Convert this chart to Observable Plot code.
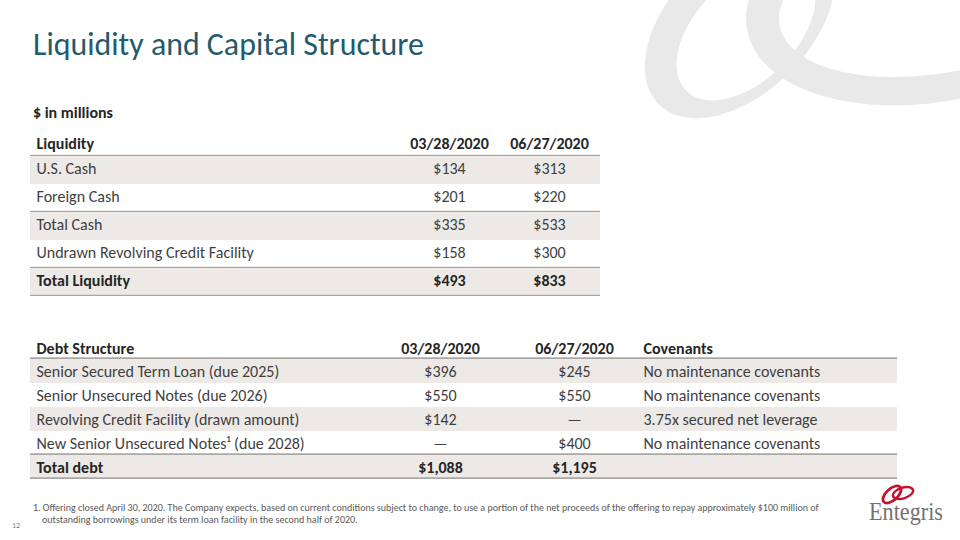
<!DOCTYPE html>
<html><head><meta charset="utf-8">
<script src="https://cdn.jsdelivr.net/npm/d3@7"></script>
<script src="https://cdn.jsdelivr.net/npm/@observablehq/plot@0.6"></script>
<style>
html,body{margin:0;padding:0;background:#fff}
#page{position:relative;width:960px;height:540px;overflow:hidden;background:#fff}
.abs{position:absolute}
</style></head><body>
<div id="page">
<svg id="bg" class="abs" width="960" height="540" style="left:0;top:0">
  <defs>
    <mask id="m1" maskUnits="userSpaceOnUse" x="0" y="0" width="960" height="540">
      <ellipse cx="740" cy="23" rx="115" ry="70" transform="rotate(-45 740 23)" fill="#fff"/>
      <ellipse cx="746" cy="31" rx="84.5" ry="50" transform="rotate(-45 746 31)" fill="#000"/>
    </mask>
    <mask id="m2" maskUnits="userSpaceOnUse" x="0" y="0" width="960" height="540">
      <ellipse cx="943" cy="-10" rx="200" ry="110" transform="rotate(-12 943 -10)" fill="#fff"/>
      <ellipse cx="948" cy="-9" rx="172" ry="80" transform="rotate(-12 948 -9)" fill="#000"/>
    </mask>
  </defs>
  <rect width="960" height="540" fill="#e9e9e9" mask="url(#m1)"/>
  <rect width="960" height="540" fill="#e9e9e9" mask="url(#m2)"/>
</svg>
<div id="liq" class="abs" style="left:30px;top:126px"></div>
<div id="debt" class="abs" style="left:30px;top:335px"></div>
<svg id="txt" class="abs" width="960" height="540" style="left:0;top:0"></svg>
</div>
<script>
// ---------- data ----------
const liqHeader = ["Liquidity", "03/28/2020", "06/27/2020"];
const liqRows = ["U.S. Cash", "Foreign Cash", "Total Cash", "Undrawn Revolving Credit Facility", "Total Liquidity"];
const liqQ1 = [134, 201, 335, 158, 493];
const liqQ2 = [313, 220, 533, 300, 833];

const debtHeader = ["Debt Structure", "03/28/2020", "06/27/2020", "Covenants"];
const debtRows = ["Senior Secured Term Loan (due 2025)", "Senior Unsecured Notes (due 2026)", "Revolving Credit Facility (drawn amount)", "New Senior Unsecured Notes\u00b9 (due 2028)", "Total debt"];
const debtQ1 = [396, 550, 142, null, 1088];
const debtQ2 = [245, 550, null, 400, 1195];
const debtCovenants = ["No maintenance covenants", "No maintenance covenants", "3.75x secured net leverage", "No maintenance covenants", ""];

const titleText = "Liquidity and Capital Structure";
const unitText = "$ in millions";
const footLines = [
  "1. Offering closed April 30, 2020. The Company expects, based on current conditions subject to change, to use a portion of the net proceeds of the offering to repay approximately $100 million of",
  "outstanding borrowings under its term loan facility in the second half of 2020."
];
const pageNum = "12";

// ---------- style ----------
const FONT = "Carlito, Lato, 'Open Sans', sans-serif";
const SHADE = "#ece9e6";
const RULE = "#a8a5a3";
const TEXT = "#3f3f3f";
const HEAD = "#262626";
const TITLE = "#245a6b";

const ctx = document.createElement("canvas").getContext("2d");
function fit(text, target, weight = "normal", family = FONT) {
  ctx.font = `${weight} 100px ${family}`;
  return 100 * target / ctx.measureText(text).width;
}
const money = v => v == null ? "\u2014" : "$" + d3.format(",")(v);

const bodySize = (fit("Revolving Credit Facility (drawn amount)", 263) + fit("Undrawn Revolving Credit Facility", 218)) / 2;

function drawTable(el, o) {
  const n = o.columns[0].length;
  const keys = ["h", ...d3.range(n).map(String)];
  const rows = d3.range(n).map(i => ({key: String(i), cells: o.columns.map(c => c[i]), bold: o.bold.includes(i)}));
  const head = [{key: "h", cells: o.header}];
  const marks = [
    Plot.cell(o.shaded.map(String), {y: d => d, fill: SHADE}),
    Plot.cell(o.ruled.map(d => d === -1 ? "h" : String(d)), {y: d => d, fill: RULE, insetTop: o.rowH - 1.7})
  ];
  o.header.forEach((_, j) => {
    const common = {y: "key", text: d => d.cells[j], frameAnchor: "left", dx: o.colX[j], textAnchor: o.anchor[j], fontSize: bodySize, fontFamily: FONT};
    marks.push(Plot.text(rows.filter(d => !d.bold), {...common, fill: TEXT, dy: o.rowDy}));
    marks.push(Plot.text(rows.filter(d => d.bold), {...common, fill: HEAD, fontWeight: "bold", dy: o.rowDy}));
    marks.push(Plot.text(head, {...common, fill: HEAD, fontWeight: "bold", dy: o.headDy}));
  });
  const svg = Plot.plot({
    width: o.width, height: o.rowH * keys.length, margin: 0,
    y: {domain: keys, padding: 0, axis: null},
    style: {background: "transparent", fontFamily: FONT, overflow: "visible"},
    marks
  });
  el.appendChild(svg);
}

drawTable(document.getElementById("liq"), {
  header: liqHeader,
  columns: [liqRows, liqQ1.map(money), liqQ2.map(money)],
  colX: [6, 419, 519], anchor: ["start", "middle", "middle"],
  width: 570, rowH: 28.5, headDy: 1, rowDy: -1.2,
  shaded: [0, 2, 4], ruled: [-1, 1, 3, 4], bold: [4]
});
drawTable(document.getElementById("debt"), {
  header: debtHeader,
  columns: [debtRows, debtQ1.map(money), debtQ2.map(money), debtCovenants],
  colX: [6, 410, 544, 613], anchor: ["start", "middle", "middle", "start"],
  width: 867, rowH: 24, headDy: 1, rowDy: 0,
  shaded: [0, 2, 4], ruled: [-1, 3, 4], bold: [4]
});

// ---------- page text ----------
const T = d3.select("#txt");
T.append("text").attr("x", 33).attr("y", 55).attr("font-family", FONT)
  .attr("font-size", fit(titleText, 391)).attr("fill", TITLE).text(titleText);
T.append("text").attr("x", 33).attr("y", 118).attr("font-family", FONT).attr("font-weight", "bold")
  .attr("font-size", fit(unitText, 80, "bold")).attr("fill", HEAD).text(unitText);
const footSize = fit(footLines[0], 787);
T.append("text").attr("x", 33).attr("y", 511).attr("font-family", FONT)
  .attr("font-size", footSize).attr("fill", "#595959").text(footLines[0]);
T.append("text").attr("x", 42).attr("y", 523).attr("font-family", FONT)
  .attr("font-size", footSize).attr("fill", "#595959").text(footLines[1]);
T.append("text").attr("x", 12).attr("y", 528).attr("font-family", FONT)
  .attr("font-size", 8).attr("fill", "#7f7f7f").text(pageNum);

// logo
const L = T.append("g");
L.append("ellipse").attr("cx", 892).attr("cy", 494.5).attr("rx", 11).attr("ry", 5.8)
  .attr("transform", "rotate(-42 892 494.5)").attr("fill", "none").attr("stroke", "#c8102e").attr("stroke-width", 2.8);
L.append("ellipse").attr("cx", 903).attr("cy", 493).attr("rx", 10.5).attr("ry", 5.3)
  .attr("transform", "rotate(-18 903 493)").attr("fill", "none").attr("stroke", "#c8102e").attr("stroke-width", 2.4);
L.append("text").attr("x", 869).attr("y", 520).attr("font-family", "'Liberation Serif', 'DejaVu Serif', serif")
  .attr("font-size", 26).attr("fill", "#767171").attr("textLength", 74).attr("lengthAdjust", "spacingAndGlyphs").text("Entegris");
</script>
</body></html>
